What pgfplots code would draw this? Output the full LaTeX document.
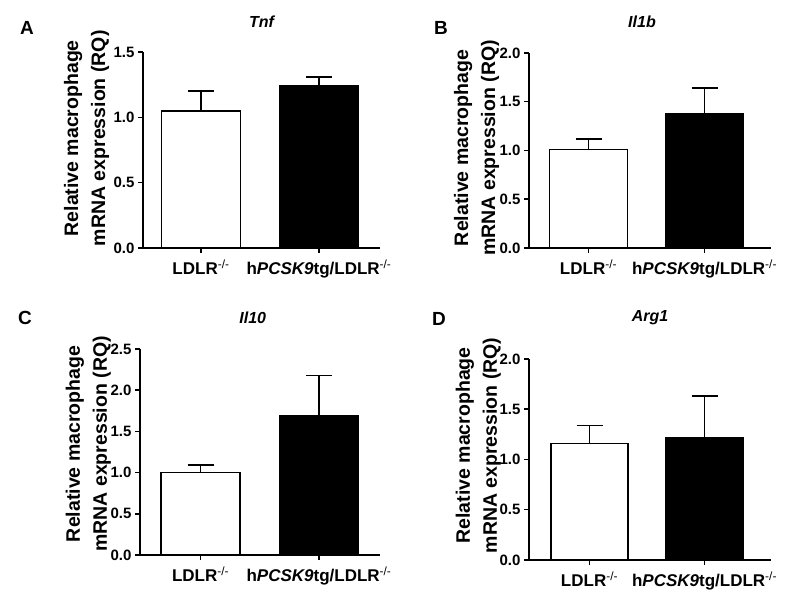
\documentclass[border=0pt]{standalone}
\usepackage{pgfplots}
\pgfplotsset{compat=1.18}
\usepackage{fontspec}
\setmainfont{Liberation Sans}
\pgfplotsset{panel/.style={
  scale only axis, ybar, bar shift=0pt, enlargelimits=false,
  axis x line*=bottom, axis y line*=left,
  axis line style={line width=1.5pt, -},
  ymin=0, ytick distance=0.5,
  xtick={0,1},
  xticklabels={LDLR\textsuperscript{\mdseries -/-}, h\textit{PCSK9}tg/LDLR\textsuperscript{\mdseries -/-}},
  tick align=outside, major tick length=5pt,
  every tick/.style={line width=1.5pt, black},
  /pgf/number format/assume math mode=true,
  yticklabel style={font=\fontsize{15}{17}\selectfont\bfseries, /pgf/number format/.cd, fixed, fixed zerofill, precision=1},
  xticklabel style={font=\fontsize{17}{19}\selectfont\bfseries, yshift=-3pt},
  title style={font=\fontsize{16}{18}\selectfont\bfseries\itshape, anchor=center},
  ylabel={Relative macrophage\\mRNA expression (RQ)},
  ylabel style={font=\fontsize{19.5}{27}\selectfont\bfseries, align=center, anchor=center, rotate=0},
  clip=false,
  every axis plot/.append style={draw=black, line width=1.5pt},
  error bars/error bar style={line width=1.5pt, black},
  error bars/error mark options={rotate=90, mark size=13pt, line width=1.5pt, black},
}}
\begin{document}
\begin{tikzpicture}
\path[use as bounding box] (0pt,0pt) rectangle (800pt,602pt);
% Panel A
\begin{axis}[panel, at={(143pt,354pt)}, anchor=south west,
  width=237pt, height=196pt, xmin=-0.4915, xmax=1.517, ymax=1.5,
  title={Tnf}, title style={at={(axis description cs:0.5,1)}, yshift=24pt},
  ylabel style={at={(axis description cs:-0.238,0.56)}}]
\addplot[fill=white, bar width=79pt, error bars/.cd, y dir=plus, y explicit]
  coordinates {(0,1.05) +- (0,0.15)};
\addplot[fill=black, bar width=79pt, error bars/.cd, y dir=plus, y explicit]
  coordinates {(1,1.24) +- (0,0.07)};
\end{axis}
% Panel B
\begin{axis}[panel, at={(529pt,354pt)}, anchor=south west,
  width=242pt, height=195pt, xmin=-0.513, xmax=1.573, ymax=2,
  title={Il1b}, title style={at={(axis description cs:0.467,1)}, yshift=25pt},
  ylabel style={at={(axis description cs:-0.217,0.513)}}]
\addplot[fill=white, bar width=78pt, error bars/.cd, y dir=plus, y explicit]
  coordinates {(0,1.01) +- (0,0.11)};
\addplot[fill=black, bar width=78pt, error bars/.cd, y dir=plus, y explicit]
  coordinates {(1,1.38) +- (0,0.26)};
\end{axis}
% Panel C
\begin{axis}[panel, at={(140pt,47pt)}, anchor=south west,
  width=240pt, height=206pt, xmin=-0.511, xmax=1.515, ymax=2.5,
  title={Il10}, title style={at={(axis description cs:0.47,1)}, yshift=25pt},
  ylabel style={at={(axis description cs:-0.215,0.539)}}]
\addplot[fill=white, bar width=79pt, error bars/.cd, y dir=plus, y explicit]
  coordinates {(0,1.00) +- (0,0.09)};
\addplot[fill=black, bar width=79pt, error bars/.cd, y dir=plus, y explicit]
  coordinates {(1,1.69) +- (0,0.49)};
\end{axis}
% Panel D
\begin{axis}[panel, at={(529pt,42pt)}, anchor=south west,
  width=242pt, height=201pt, xmin=-0.526, xmax=1.578, ymax=2,
  title={Arg1}, title style={at={(axis description cs:0.5,1)}, yshift=35pt},
  ylabel style={at={(axis description cs:-0.209,0.57)}}]
\addplot[fill=white, bar width=77pt, error bars/.cd, y dir=plus, y explicit]
  coordinates {(0,1.16) +- (0,0.18)};
\addplot[fill=black, bar width=77pt, error bars/.cd, y dir=plus, y explicit]
  coordinates {(1,1.22) +- (0,0.41)};
\end{axis}
\node[font=\fontsize{19}{21}\selectfont\bfseries] at (27pt,574pt) {A};
\node[font=\fontsize{19}{21}\selectfont\bfseries] at (441pt,574pt) {B};
\node[font=\fontsize{19}{21}\selectfont\bfseries] at (25pt,284pt) {C};
\node[font=\fontsize{19}{21}\selectfont\bfseries] at (439pt,283pt) {D};
\end{tikzpicture}
\end{document}
